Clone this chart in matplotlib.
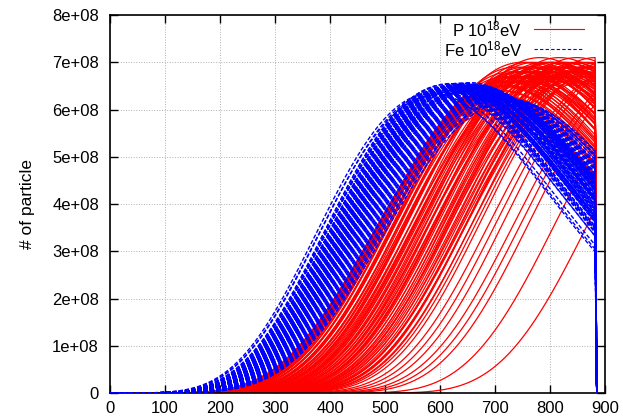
import numpy as np
import matplotlib.pyplot as plt
from matplotlib.lines import Line2D

plt.rcParams['font.family'] = ['Liberation Sans', 'DejaVu Sans']
plt.rcParams['mathtext.fontset'] = 'custom'
plt.rcParams['mathtext.rm'] = 'Liberation Sans'
plt.rcParams['mathtext.it'] = 'Liberation Sans:italic'

# shower profiles: depth of maximum (g/cm2) and size at max (1e8)
p_xmax = [694, 697, 700, 702, 704, 706, 708, 710, 712, 714,
          714, 716, 719, 722, 725, 727, 730, 733, 735, 738,
          741, 743, 746, 749, 751, 754, 757, 760, 762, 765,
          768, 771, 773, 776, 779, 782, 785, 788, 790, 793,
          796, 799, 802, 805, 808, 811, 814, 817, 820, 823,
          826, 829, 832, 836, 839, 842, 846, 849, 853, 856,
          860, 864, 867, 871, 875, 879, 883, 887, 891, 896,
          705, 712, 724, 736, 748, 758, 770, 781, 792, 803,
          815, 827, 840, 852, 866, 878, 698, 718, 744, 766,
          786, 806, 824, 844, 870, 905, 918, 932, 947, 963,
          978, 994, 1040, 1100]
p_nmax = [5.9, 6.0, 6.1, 6.0, 6.2, 6.3, 6.2, 6.4, 6.3, 6.5,
          6.4, 6.6, 6.5, 6.7, 6.6, 6.5, 6.8, 6.6, 6.7, 6.9,
          6.6, 6.8, 6.7, 7.0, 6.6, 6.8, 6.9, 6.7, 7.0, 6.8,
          6.9, 6.6, 7.0, 6.8, 6.7, 7.1, 6.9, 6.8, 7.0, 6.7,
          6.9, 7.0, 6.8, 6.6, 7.0, 6.9, 6.7, 7.1, 6.8, 6.9,
          7.0, 6.7, 6.9, 6.8, 7.0, 6.6, 6.9, 7.1, 6.8, 6.7,
          7.0, 6.9, 6.8, 7.0, 6.7, 6.9, 7.1, 6.8, 7.0, 6.9,
          6.3, 6.5, 6.6, 6.7, 6.8, 6.6, 6.9, 6.7, 6.8, 7.0,
          6.7, 6.9, 6.8, 7.0, 6.6, 6.9, 6.1, 6.5, 6.7, 6.8,
          6.9, 6.7, 7.0, 6.8, 6.9, 7.0, 6.8, 6.9, 7.0, 6.8,
          6.9, 7.0, 6.9, 6.9]

fe_xmax = [625, 661, 608, 680, 644, 716, 634, 613, 668, 651,
           700, 590, 640, 683, 620, 662, 730, 647, 629, 673,
           610, 657, 690, 637, 667, 585, 676, 649, 706, 623,
           664, 642, 686, 615, 655, 722, 633, 670, 603, 648,
           695, 627, 659, 681, 638, 618, 665, 711, 644, 653,
           674, 606, 630, 688, 658, 622, 669, 643, 701, 611,
           663, 635, 678, 650, 593, 693, 628, 672, 646, 614,
           719, 657, 639, 683, 624, 665, 605, 650, 697, 632,
           677, 617, 661, 643, 708, 625, 669, 654, 609, 687,
           634, 667, 649, 619, 703, 640, 673, 655, 629, 726]
fe_nmax = [6.45, 6.50, 6.40, 6.35, 6.52, 6.25, 6.48, 6.38, 6.44, 6.55,
           6.28, 6.30, 6.46, 6.32, 6.50, 6.41, 6.18, 6.53, 6.42, 6.39,
           6.47, 6.49, 6.30, 6.56, 6.43, 6.35, 6.37, 6.47, 6.24, 6.52,
           6.45, 6.40, 6.33, 6.44, 6.57, 6.20, 6.51, 6.38, 6.42, 6.50,
           6.29, 6.46, 6.53, 6.34, 6.44, 6.55, 6.40, 6.26, 6.48, 6.42,
           6.41, 6.49, 6.40, 6.31, 6.46, 6.43, 6.50, 6.37, 6.27, 6.53,
           6.44, 6.49, 6.36, 6.45, 6.38, 6.30, 6.54, 6.42, 6.51, 6.41,
           6.22, 6.39, 6.47, 6.33, 6.48, 6.52, 6.36, 6.43, 6.28, 6.45,
           6.40, 6.50, 6.47, 6.55, 6.25, 6.41, 6.44, 6.49, 6.46, 6.32,
           6.43, 6.48, 6.40, 6.47, 6.26, 6.52, 6.45, 6.41, 6.50, 6.21]

ground = 882          # observation level, profiles stop here
p_width = 740         # Xmax - X0 for protons
fe_x0 = -60.0
lam = 70.0

x_ticks = [0, 100, 200, 300, 400, 500, 600, 700, 800, 900]
y_ticks = [0, 1e8, 2e8, 3e8, 4e8, 5e8, 6e8, 7e8, 8e8]
y_labels = ['0', '1e+08', '2e+08', '3e+08', '4e+08', '5e+08', '6e+08', '7e+08', '8e+08']


def gaisser_hillas(x, nmax, xmax, x0):
    t = np.clip((x - x0) / (xmax - x0), 1e-9, None)
    n = nmax * t ** ((xmax - x0) / lam) * np.exp((xmax - x) / lam)
    return np.where(x > x0, n, 0.0)


depth = np.arange(0, ground + 1, 2.0)
depth_end = np.append(depth, ground + 3)

fig = plt.figure(figsize=(6.23, 4.19), dpi=100)
ax = fig.add_axes([0.1766, 0.062, 0.7945, 0.902])

for xm, nm in zip(p_xmax, p_nmax):
    n = gaisser_hillas(depth, nm * 1e8, xm, xm - p_width)
    ax.plot(depth_end, np.append(n, 0), color='#ff0000', lw=0.9, zorder=2)

for xm, nm in zip(fe_xmax, fe_nmax):
    n = gaisser_hillas(depth, nm * 1e8, xm, fe_x0)
    ax.plot(depth_end, np.append(n, 0), color='#0000ff', lw=1.0,
            ls=(0, (3, 1.5)), zorder=3)

ax.set_xlim(0, 900)
ax.set_ylim(0, 8e8)
ax.set_xticks(x_ticks)
ax.set_yticks(y_ticks)
ax.set_yticklabels(y_labels)
ax.tick_params(direction='in', length=6, width=1, top=True, right=True,
               labelsize=12, colors='black')
ax.tick_params(axis='y', pad=8)
ax.tick_params(axis='x', pad=6)
ax.grid(True, color='#b0b0b0', ls=':', lw=0.7, zorder=0)
for s in ax.spines.values():
    s.set_linewidth(1.2)
ax.set_ylabel('# of particle', fontsize=12.5, labelpad=12)

# key in the style of gnuplot
ax.text(0.832, 0.963, 'P 10$^{18}$eV', transform=ax.transAxes, ha='right',
        va='center', fontsize=12, zorder=5)
ax.text(0.832, 0.910, 'Fe 10$^{18}$eV', transform=ax.transAxes, ha='right',
        va='center', fontsize=12, zorder=5)
ax.add_line(Line2D([0.857, 0.958], [0.963, 0.963], transform=ax.transAxes,
                   color='#ff0000', lw=0.8, zorder=5))
ax.add_line(Line2D([0.857, 0.958], [0.910, 0.910], transform=ax.transAxes,
                   color='#0000ff', lw=0.8, ls=(0, (3, 2)), zorder=5))

fig.savefig('out.png', dpi=100)
